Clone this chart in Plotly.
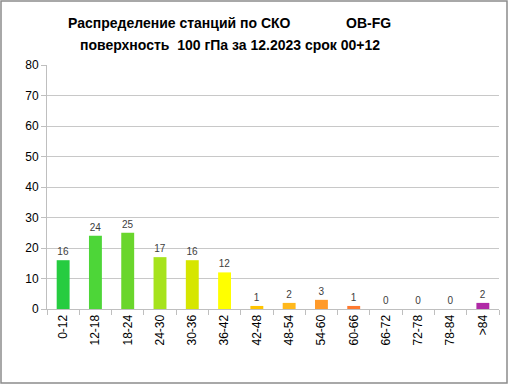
import plotly.graph_objects as go

categories = ["0-12", "12-18", "18-24", "24-30", "30-36", "36-42", "42-48",
              "48-54", "54-60", "60-66", "66-72", "72-78", "78-84", ">84"]
values = [16, 24, 25, 17, 16, 12, 1, 2, 3, 1, 0, 0, 0, 2]
colors = ["#26cc40", "#4dd638", "#6ad62c", "#a6e31c", "#d6e600", "#ffff00", "#ffc400",
          "#ffb81c", "#ff9a2a", "#ff7a30", "#ff6a30", "#ff6a30", "#ff6a30", "#b02aa6"]
title_line1_left = "Распределение станций по СКО"
title_line1_right = "OB-FG"
title_line2 = "поверхность  100 гПа за 12.2023 срок 00+12"

W, H = 508, 384
ml, mr, mt, mb = 47, 9, 65, 75
pw, ph = W - ml - mr, H - mt - mb

def px(x):
    return (x - ml) / pw

def py(y):
    return 1 - (y - mt) / ph

font = "Liberation Sans"
fig = go.Figure(go.Bar(
    x=categories, y=values, marker_color=colors, marker_line_width=0,
    text=[str(v) for v in values], textposition="outside",
    textfont=dict(size=10, color="#404040", family=font), cliponaxis=False,
    hoverinfo="skip",
))
fig.update_layout(
    width=W, height=H, margin=dict(l=ml, r=mr, t=mt, b=mb),
    paper_bgcolor="white", plot_bgcolor="white", showlegend=False,
    bargap=0.6, font=dict(family=font, color="#000000"),
    xaxis=dict(type="category", tickangle=-90, tickfont=dict(size=12, color="#000"),
               ticks="outside", tickson="boundaries", ticklen=5, tickcolor="#bfbfbf",
               showline=True, linecolor="#bfbfbf", linewidth=1, showgrid=False),
    yaxis=dict(range=[0, 80], dtick=10, tickfont=dict(size=12, color="#000"),
               showgrid=True, gridcolor="#c8c8c8", gridwidth=1, zeroline=False,
               showline=True, linecolor="#bfbfbf", ticks="outside", ticklen=5,
               tickcolor="#bfbfbf"),
    annotations=[
        dict(text="<b>%s</b>" % title_line1_left, x=px(179), y=py(23), xref="paper", yref="paper",
             showarrow=False, font=dict(size=14, family=font), xanchor="center", yanchor="middle"),
        dict(text="<b>%s</b>" % title_line1_right, x=px(368), y=py(23), xref="paper", yref="paper",
             showarrow=False, font=dict(size=14, family=font), xanchor="center", yanchor="middle"),
        dict(text="<b>%s</b>" % title_line2, x=px(230), y=py(45), xref="paper", yref="paper",
             showarrow=False, font=dict(size=14, family=font), xanchor="center", yanchor="middle"),
    ],
    shapes=[dict(type="rect", xref="paper", yref="paper",
                 x0=px(1), x1=px(507), y0=py(383), y1=py(1),
                 line=dict(color="#8c8c8c", width=1.5), fillcolor="rgba(0,0,0,0)")],
)
fig.write_html("out.html", config={"displayModeBar": False},
               post_script="document.body.style.margin='0';")
